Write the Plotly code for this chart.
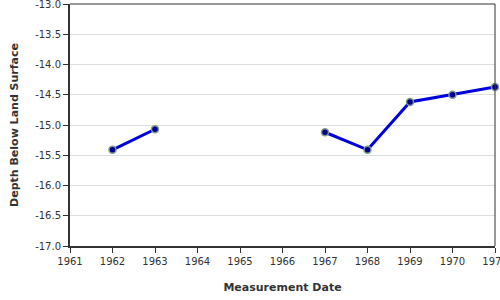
import plotly.graph_objects as go

years = [1962, 1963, 1964, 1965, 1966, 1967, 1968, 1969, 1970, 1971]
depth = [-15.41, -15.07, None, None, None, -15.12, -15.41, -14.62, -14.50, -14.37]

y_ticks = [-13.0, -13.5, -14.0, -14.5, -15.0, -15.5, -16.0, -16.5, -17.0]
y_labels = ["-13.0", "-13.5", "-14.0", "-14.5", "-15.0", "-15.5", "-16.0", "-16.5", "-17.0"]
x_ticks = [1961, 1962, 1963, 1964, 1965, 1966, 1967, 1968, 1969, 1970, 1971]

fig = go.Figure()
fig.add_trace(go.Scatter(
    x=years, y=depth, mode="lines+markers",
    line=dict(color="#0000dd", width=3),
    marker=dict(size=7, color="#00008b", line=dict(color="#7f9a8c", width=1.5)),
    connectgaps=False, cliponaxis=False, showlegend=False,
))

font = "DejaVu Sans, Verdana, sans-serif"
fig.update_layout(
    width=500, height=300,
    margin=dict(l=70, r=5, t=4, b=54, autoexpand=False),
    paper_bgcolor="white", plot_bgcolor="white",
    font=dict(family=font, size=10, color="#333"),
    xaxis=dict(
        range=[1961, 1971], tickvals=x_ticks, ticktext=[str(v) for v in x_ticks],
        showgrid=False, zeroline=False, ticklabeloverflow="allow", automargin=False,
        showline=True, linecolor="#333", linewidth=2, mirror=False,
        ticks="outside", ticklen=5, tickcolor="#333", tickwidth=1,
        title=dict(text="<b>Measurement Date</b>", font=dict(size=11, color="#333"), standoff=17),
    ),
    yaxis=dict(
        range=[-17.0, -13.0], tickvals=y_ticks, ticktext=y_labels,
        showgrid=True, gridcolor="#dddddd", gridwidth=1, zeroline=False,
        ticklabeloverflow="allow", automargin=False,
        showline=True, linecolor="#333", linewidth=2,
        ticks="outside", ticklen=5, tickcolor="#333", tickwidth=1,
        title=dict(text="<b>Depth Below Land Surface</b>", font=dict(size=11, color="#333"), standoff=14),
    ),
)
# thin top/right border
fig.add_shape(type="line", xref="paper", yref="paper", x0=0, x1=1, y0=1, y1=1,
              line=dict(color="#333", width=1))
fig.add_shape(type="line", xref="paper", yref="paper", x0=1, x1=1, y0=0, y1=1,
              line=dict(color="#333", width=1))

fig.write_html("out.html")
